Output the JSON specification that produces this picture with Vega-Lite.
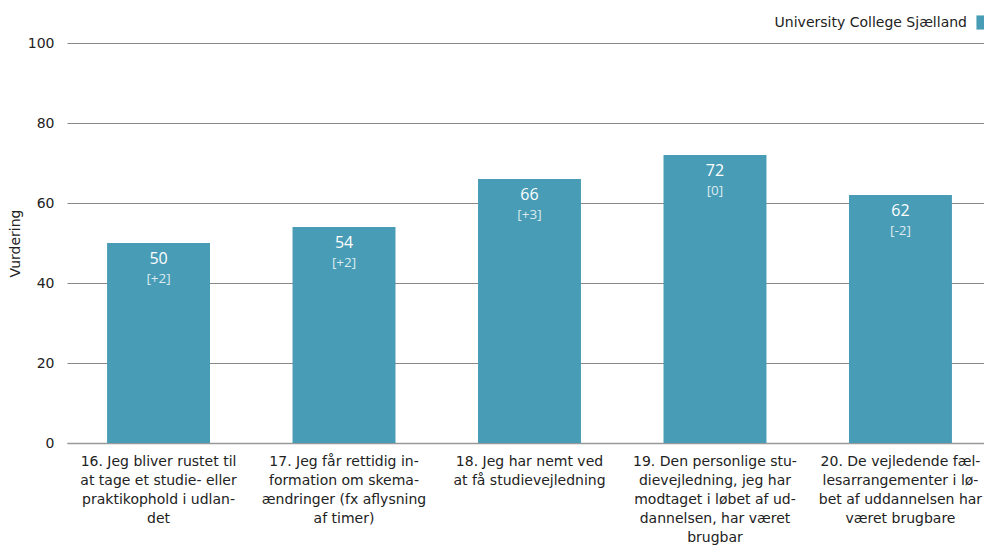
{
  "$schema": "https://vega.github.io/schema/vega-lite/v6.json",
  "width": 925,
  "height": 400,
  "padding": {"left": 8, "top": 15, "right": 0, "bottom": 5},
  "autosize": {"type": "pad"},
  "background": "white",
  "config": {
    "view": {"stroke": null},
    "font": "DejaVu Sans",
    "axis": {"labelFont": "DejaVu Sans", "titleFont": "DejaVu Sans", "labelColor": "#222222", "titleColor": "#222222"},
    "legend": {"labelFont": "DejaVu Sans"}
  },
  "data": {
    "values": [
      {"item": "16", "label": "16. Jeg bliver rustet til|at tage et studie- eller|praktikophold i udlan-|det", "value": 50, "delta": "[+2]", "series": "University College Sjælland"},
      {"item": "17", "label": "17. Jeg får rettidig in-|formation om skema-|ændringer (fx aflysning|af timer)", "value": 54, "delta": "[+2]", "series": "University College Sjælland"},
      {"item": "18", "label": "18. Jeg har nemt ved|at få studievejledning", "value": 66, "delta": "[+3]", "series": "University College Sjælland"},
      {"item": "19", "label": "19. Den personlige stu-|dievejledning, jeg har|modtaget i løbet af ud-|dannelsen, har været|brugbar", "value": 72, "delta": "[0]", "series": "University College Sjælland"},
      {"item": "20", "label": "20. De vejledende fæl-|lesarrangementer i lø-|bet af uddannelsen har|været brugbare", "value": 62, "delta": "[-2]", "series": "University College Sjælland"}
    ]
  },
  "encoding": {
    "x": {
      "field": "label",
      "type": "nominal",
      "sort": null,
      "title": null,
      "scale": {"paddingInner": 0.445, "paddingOuter": 0.216},
      "axis": {
        "labelAngle": 0,
        "labelExpr": "split(datum.label, '|')",
        "labelFontSize": 14,
        "labelLineHeight": 19,
        "labelPadding": 11,
        "labelLimit": 300,
        "ticks": false,
        "domain": true,
        "domainColor": "#999999",
        "domainWidth": 1.5
      }
    },
    "y": {
      "field": "value",
      "type": "quantitative",
      "title": "Vurdering",
      "scale": {"domain": [0, 100]},
      "axis": {
        "values": [0, 20, 40, 60, 80, 100],
        "ticks": false,
        "domain": false,
        "grid": true,
        "gridColor": "#888888",
        "gridWidth": 1,
        "labelFontSize": 14,
        "labelPadding": 13,
        "titleFontSize": 14,
        "titleFontWeight": "normal",
        "titlePadding": 5
      }
    }
  },
  "layer": [
    {
      "mark": {"type": "bar"},
      "encoding": {
        "fill": {
          "field": "series",
          "type": "nominal",
          "scale": {"range": ["#489cb6"]},
          "legend": {
            "title": null,
            "orient": "none",
            "legendX": 909,
            "legendY": -28,
            "symbolType": "square",
            "symbolSize": 200,
            "symbolStrokeWidth": 0,
            "labelFontSize": 14,
            "labelColor": "#222222",
            "labelAlign": "right",
            "labelOffset": -24,
            "labelLimit": 400
          }
        }
      }
    },
    {
      "mark": {"type": "text", "baseline": "middle", "dy": 16, "fontSize": 16, "color": "white", "font": "Open Sans"},
      "encoding": {"text": {"field": "value", "type": "quantitative"}}
    },
    {
      "mark": {"type": "text", "baseline": "middle", "dy": 36, "fontSize": 13.5, "color": "#dcebf0", "font": "Open Sans"},
      "encoding": {"text": {"field": "delta", "type": "nominal"}}
    }
  ]
}
